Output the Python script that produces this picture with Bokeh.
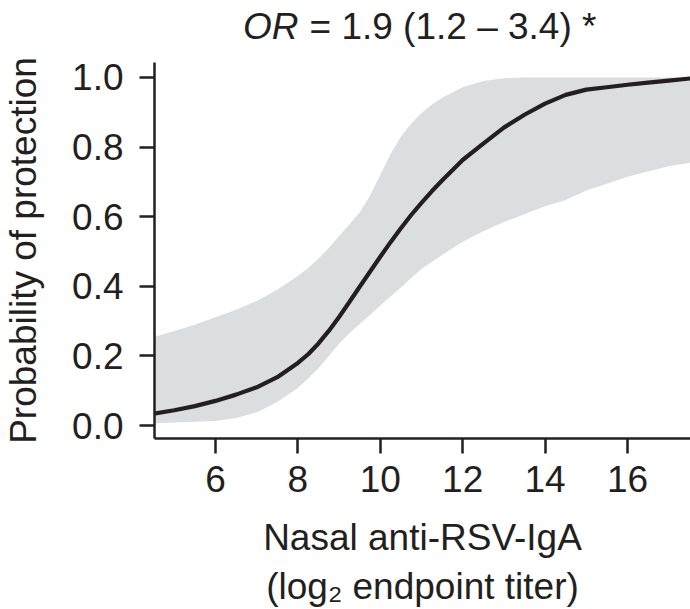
from bokeh.plotting import figure
from bokeh.models import Range1d, Label, ColumnDataSource, FixedTicker, CustomJSTickFormatter
from bokeh.layouts import column
from bokeh.embed import file_html
from bokeh.resources import INLINE

# Data
titer = [4.5, 5.0, 5.5, 6.0, 6.5, 7.0, 7.5, 8.0, 8.25, 8.5, 8.75, 9.0, 9.25, 9.5,
         9.75, 10.0, 10.25, 10.5, 10.75, 11.0, 11.25, 11.5, 12.0, 12.5, 13.0,
         13.5, 14.0, 14.5, 15.0, 15.5, 16.0, 16.5, 17.0, 17.6]
prob_fit = [0.034, 0.044, 0.056, 0.071, 0.089, 0.110, 0.139, 0.180, 0.205, 0.236,
            0.272, 0.312, 0.355, 0.399, 0.442, 0.485, 0.527, 0.567, 0.605, 0.640,
            0.673, 0.704, 0.763, 0.810, 0.856, 0.893, 0.925, 0.950, 0.965, 0.972,
            0.979, 0.985, 0.991, 0.998]
ci_upper = [0.254, 0.272, 0.290, 0.311, 0.333, 0.358, 0.390, 0.430, 0.453, 0.480,
            0.510, 0.545, 0.578, 0.612, 0.660, 0.720, 0.780, 0.830, 0.868, 0.898,
            0.922, 0.942, 0.972, 0.990, 0.998, 1.0, 1.0, 1.0, 1.0, 1.0, 1.0, 1.0,
            1.0, 1.0]
ci_lower = [0.006, 0.009, 0.011, 0.013, 0.022, 0.038, 0.068, 0.108, 0.135, 0.165,
            0.200, 0.235, 0.265, 0.292, 0.318, 0.345, 0.371, 0.397, 0.424, 0.450,
            0.470, 0.490, 0.528, 0.558, 0.585, 0.607, 0.630, 0.648, 0.675, 0.695,
            0.715, 0.730, 0.745, 0.757]
x_ticks = [6, 8, 10, 12, 14, 16]
y_ticks = [0.0, 0.2, 0.4, 0.6, 0.8, 1.0]
title_italic = "OR"
title_rest = "= 1.9 (1.2 \u2013 3.4) *"

FONT = "Liberation Sans"
INK = "#231f20"
STRIP_H = 50

# ---- title strip: a figure whose frame spans x 154..690 in page pixels ----
t = figure(width=690, height=STRIP_H, output_backend="svg", toolbar_location=None,
           title=None, x_range=Range1d(154, 690), y_range=Range1d(0, STRIP_H),
           min_border_left=154, min_border_right=0, min_border_top=0,
           min_border_bottom=0, x_axis_type=None, y_axis_type=None)
t.outline_line_color = None
t.xgrid.visible = False
t.ygrid.visible = False
t.add_layout(Label(x=298, y=24, text=title_italic, text_align="right",
                   text_baseline="alphabetic", text_font=FONT,
                   text_font_size="37px", text_font_style="italic",
                   text_color=INK))
t.add_layout(Label(x=309, y=24, text=title_rest, text_align="left",
                   text_baseline="alphabetic", text_font=FONT,
                   text_font_size="37px", text_color=INK))

# ---- main plot ----
src = ColumnDataSource(dict(x=titer, fit=prob_fit, up=ci_upper, lo=ci_lower))

p = figure(width=690, height=609 - STRIP_H, output_backend="svg", toolbar_location=None,
           x_range=Range1d(4.52, 17.53), y_range=Range1d(-0.037, 1.043),
           min_border_left=154, min_border_right=0, min_border_top=62 - STRIP_H,
           min_border_bottom=169)
p.outline_line_color = None
p.xgrid.visible = False
p.ygrid.visible = False
p.background_fill_color = "white"

p.varea(x="x", y1="lo", y2="up", source=src, fill_color="#dcddde", fill_alpha=1.0)
p.line(x="x", y="fit", source=src, line_color=INK, line_width=4.2)

for ax in (p.xaxis[0], p.yaxis[0]):
    ax.axis_line_color = INK
    ax.axis_line_width = 2.5
    ax.major_tick_line_color = INK
    ax.major_tick_line_width = 2.5
    ax.major_tick_out = 15
    ax.major_tick_in = 0
    ax.minor_tick_line_color = None
    ax.major_label_text_font = FONT
    ax.major_label_text_font_size = "37px"
    ax.major_label_text_color = INK
    ax.axis_label_text_font = FONT
    ax.axis_label_text_font_size = "37px"
    ax.axis_label_text_font_style = "normal"
    ax.axis_label_text_color = INK

p.xaxis.ticker = FixedTicker(ticks=x_ticks)
p.yaxis.ticker = FixedTicker(ticks=y_ticks)
p.yaxis.formatter = CustomJSTickFormatter(code="return tick.toFixed(1);")
p.xaxis.major_label_standoff = 12
p.yaxis.major_label_standoff = 16
p.xaxis.axis_label = "Nasal anti-RSV-IgA\n(log\u2082 endpoint titer)"
p.yaxis.axis_label = "Probability of protection"
p.xaxis.axis_label_standoff = 22
p.yaxis.axis_label_standoff = 25

layout = column(t, p, spacing=0)
open("out.html", "w").write(file_html(layout, INLINE))
